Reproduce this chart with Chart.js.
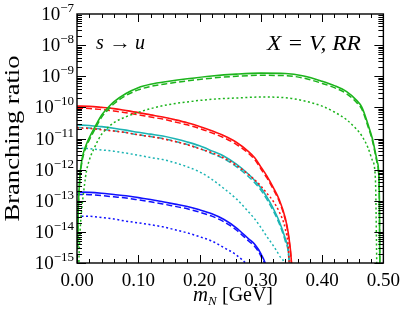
<!DOCTYPE html>
<html>
<head>
<meta charset="utf-8">
<script src="https://cdn.jsdelivr.net/npm/chart.js@4/dist/chart.umd.min.js"></script>
<style>
  html, body { margin: 0; padding: 0; background: #fff; }
</style>
</head>
<body>
<canvas id="impactChart" width="407" height="324"></canvas>
<script>
// masses (GeV) for the red / cyan / blue families
const massLow = [0, 0.02, 0.04, 0.06, 0.08, 0.1, 0.12, 0.14, 0.16, 0.18, 0.2, 0.22, 0.24, 0.26, 0.28, 0.29, 0.3, 0.31, 0.32, 0.33, 0.34, 0.345, 0.35, 0.355];
const redSolid   = [1.10e-10, 1.08e-10, 1.00e-10, 9.1e-11, 7.9e-11, 6.8e-11, 5.75e-11, 4.9e-11, 4.0e-11, 3.2e-11, 2.45e-11, 1.78e-11, 1.23e-11, 7.6e-12, 3.8e-12, 2.4e-12, 1.23e-12, 6.2e-13, 2.75e-13, 1.1e-13, 2.75e-14, 8.7e-15, 1.1e-15, 1e-17];
const redDashed  = [9.4e-11, 9.2e-11, 8.5e-11, 7.7e-11, 6.7e-11, 5.8e-11, 4.9e-11, 4.2e-11, 3.4e-11, 2.75e-11, 2.1e-11, 1.52e-11, 1.05e-11, 6.5e-12, 3.3e-12, 2.1e-12, 1.07e-12, 5.4e-13, 2.4e-13, 9.6e-14, 2.4e-14, 7.6e-15, 9.5e-16, 1e-17];
const redDotted  = [2.2e-11, 2.1e-11, 1.91e-11, 1.74e-11, 1.55e-11, 1.32e-11, 1.15e-11, 9.8e-12, 8.0e-12, 6.3e-12, 4.7e-12, 3.5e-12, 2.35e-12, 1.38e-12, 6.9e-13, 4.7e-13, 3.0e-13, 1.74e-13, 9.8e-14, 4.4e-14, 1.23e-14, 2.75e-15, 2e-17, 1e-17];
const cyanSolid  = [2.7e-11, 2.63e-11, 2.4e-11, 2.14e-11, 1.86e-11, 1.58e-11, 1.38e-11, 1.2e-11, 9.8e-12, 7.7e-12, 5.8e-12, 4.0e-12, 2.7e-12, 1.5e-12, 7.1e-13, 4.5e-13, 2.6e-13, 1.3e-13, 5.8e-14, 2.2e-14, 6.0e-15, 2.4e-15, 8.5e-17, 1e-17];
const cyanDashed = [2.25e-11, 2.18e-11, 2.0e-11, 1.78e-11, 1.55e-11, 1.31e-11, 1.15e-11, 1.0e-11, 8.1e-12, 6.4e-12, 4.8e-12, 3.3e-12, 2.25e-12, 1.25e-12, 5.9e-13, 3.8e-13, 2.2e-13, 1.1e-13, 4.9e-14, 1.85e-14, 5.0e-15, 2.0e-15, 7e-17, 1e-17];
const cyanDotted = [4.9e-12, 4.73e-12, 4.3e-12, 3.9e-12, 3.4e-12, 2.9e-12, 2.45e-12, 2.1e-12, 1.66e-12, 1.23e-12, 8.5e-13, 4.9e-13, 2.45e-13, 1.15e-13, 4.4e-14, 2.6e-14, 1.4e-14, 7.0e-15, 3.7e-15, 1.75e-15, 6.2e-16, 5e-17, 1e-17, 1e-17];
const blueSolid  = [1.9e-13, 1.86e-13, 1.74e-13, 1.58e-13, 1.44e-13, 1.26e-13, 1.1e-13, 9.3e-14, 7.8e-14, 6.5e-14, 5.1e-14, 3.8e-14, 2.5e-14, 1.35e-14, 6.0e-15, 4.0e-15, 2.0e-15, 6.0e-16, 1.9e-17, 1e-17, 1e-17, 1e-17, 1e-17, 1e-17];
const blueDashed = [1.6e-13, 1.57e-13, 1.47e-13, 1.34e-13, 1.22e-13, 1.07e-13, 9.3e-14, 7.9e-14, 6.6e-14, 5.5e-14, 4.3e-14, 3.2e-14, 2.1e-14, 1.15e-14, 5.1e-15, 3.4e-15, 1.7e-15, 5.1e-16, 1.6e-17, 1e-17, 1e-17, 1e-17, 1e-17, 1e-17];
const blueDotted = [3.2e-14, 3.17e-14, 2.9e-14, 2.6e-14, 2.2e-14, 1.95e-14, 1.7e-14, 1.45e-14, 1.17e-14, 9.3e-15, 7.0e-15, 5.1e-15, 3.1e-15, 1.8e-15, 7.2e-16, 2.6e-16, 1e-17, 1e-17, 1e-17, 1e-17, 1e-17, 1e-17, 1e-17, 1e-17];

// masses (GeV) for the green family
const massGreen = [0.001, 0.002, 0.003, 0.005, 0.0075, 0.01, 0.015, 0.02, 0.03, 0.04, 0.05, 0.06, 0.08, 0.1, 0.12, 0.15, 0.18, 0.22, 0.26, 0.3, 0.34, 0.37, 0.4, 0.42, 0.44, 0.455, 0.465, 0.475, 0.482, 0.487, 0.49, 0.492, 0.4935, 0.4945, 0.496];
const greenSolid  = [3.2e-15, 5e-14, 1.6e-13, 7.1e-13, 1.78e-12, 3.2e-12, 6.3e-12, 1.05e-11, 2.5e-11, 5.6e-11, 9.5e-11, 1.5e-10, 2.8e-10, 4.3e-10, 5.5e-10, 6.9e-10, 8.3e-10, 1.02e-9, 1.17e-9, 1.26e-9, 1.23e-9, 1.02e-9, 6.9e-10, 5.0e-10, 3.2e-10, 1.78e-10, 1.0e-10, 2.8e-11, 1.0e-11, 3.5e-12, 1.78e-12, 1.0e-12, 1.0e-13, 1e-16, 1e-17];
const greenDashed = [2.7e-15, 4.2e-14, 1.36e-13, 6.0e-13, 1.5e-12, 2.7e-12, 5.4e-12, 8.9e-12, 2.1e-11, 4.8e-11, 8.1e-11, 1.28e-10, 2.4e-10, 3.65e-10, 4.7e-10, 5.9e-10, 7.1e-10, 8.7e-10, 1.0e-9, 1.07e-9, 1.05e-9, 8.7e-10, 5.9e-10, 4.3e-10, 2.75e-10, 1.52e-10, 8.6e-11, 2.4e-11, 8.6e-12, 3.0e-12, 1.52e-12, 8.6e-13, 8.6e-14, 1e-16, 1e-17];
const greenDotted = [1e-17, 1e-16, 1e-15, 1e-14, 5e-14, 1.4e-13, 8e-13, 2.0e-12, 5.9e-12, 1.35e-11, 2.2e-11, 3.2e-11, 5.0e-11, 6.9e-11, 9.1e-11, 1.23e-10, 1.5e-10, 1.82e-10, 2.0e-10, 2.15e-10, 2.05e-10, 1.62e-10, 1.1e-10, 7.1e-11, 4.0e-11, 2.1e-11, 1.2e-11, 5.0e-12, 2.0e-12, 5e-13, 1e-16, 1e-17, 1e-17, 1e-17, 1e-17];

const xTicks = [0, 0.1, 0.2, 0.3, 0.4, 0.5];
const yExponents = [-7, -8, -9, -10, -11, -12, -13, -14, -15];

const FONT = "'Liberation Serif', 'DejaVu Serif', serif";
const GREEN = '#1cb41c', RED = '#ff1010', CYAN = '#1cb4b4', BLUE = '#1010ff';

function series(ms, vs, color, style) {
  return {
    data: ms.map((m, i) => ({ x: m, y: vs[i] })),
    borderColor: color,
    borderWidth: style === 'solid' ? 1.6 : 1.5,
    borderDash: style === 'dashed' ? [6, 3] : style === 'dotted' ? [2, 2.5] : [],
    pointRadius: 0,
    fill: false,
    cubicInterpolationMode: 'monotone'
  };
}

// draw text stretched to a given width (the original uses a wider TeX font)
function fitText(ctx, txt, x, y, width) {
  const w = ctx.measureText(txt).width;
  ctx.save();
  ctx.translate(x, y);
  ctx.scale(width / w, 1);
  ctx.fillText(txt, 0, 0);
  ctx.restore();
}

const frame = {
  id: 'frame',
  afterDraw(chart) {
    const ctx = chart.ctx;
    const a = chart.chartArea;
    const xs = chart.scales.x, ys = chart.scales.y;
    ctx.save();
    ctx.strokeStyle = '#000';
    ctx.lineWidth = 1;
    // x ticks, top and bottom
    for (let k = 0; k <= 25; k++) {
      const px = Math.round(xs.getPixelForValue(k * 0.02)) + 0.5;
      const len = k % 5 === 0 ? 8 : 4;
      ctx.beginPath();
      ctx.moveTo(px, a.bottom); ctx.lineTo(px, a.bottom - len);
      ctx.moveTo(px, a.top); ctx.lineTo(px, a.top + len);
      ctx.stroke();
    }
    // y ticks, left and right
    for (let e = -15; e < -7; e++) {
      for (let d = 1; d <= 9; d++) {
        const py = Math.round(ys.getPixelForValue(d * Math.pow(10, e))) + 0.5;
        const len = d === 1 ? 9 : 5;
        ctx.beginPath();
        ctx.moveTo(a.left, py); ctx.lineTo(a.left + len, py);
        ctx.moveTo(a.right, py); ctx.lineTo(a.right - len, py);
        ctx.stroke();
      }
    }
    ctx.lineWidth = 1.4;
    ctx.strokeRect(a.left, a.top, a.right - a.left, a.bottom - a.top);

    // y tick labels 10^n
    ctx.fillStyle = '#000';
    ctx.textBaseline = 'alphabetic';
    yExponents.forEach(e => {
      const py = ys.getPixelForValue(Math.pow(10, e));
      ctx.font = '13px ' + FONT;
      ctx.textAlign = 'right';
      const sup = '\u2212' + Math.abs(e);
      ctx.fillText(sup, a.left - 3, py - 2);
      const w = ctx.measureText(sup).width;
      ctx.font = '19px ' + FONT;
      ctx.fillText('10', a.left - 3 - w, py + 6);
    });

    // annotations
    ctx.textAlign = 'left';
    ctx.font = 'italic 20px ' + FONT;
    ctx.fillText('s', 96, 49);
    ctx.font = '19px ' + FONT;
    fitText(ctx, '\u2192', 109, 49, 22);
    ctx.font = 'italic 20px ' + FONT;
    ctx.fillText('u', 135, 49);

    ctx.font = 'italic 20px ' + FONT;
    fitText(ctx, 'X = V, RR', 267, 50, 94);

    // x axis title
    ctx.font = 'italic 20px ' + FONT;
    fitText(ctx, 'm', 193, 301, 15);
    ctx.font = 'italic 13px ' + FONT;
    ctx.fillText('N', 208, 305);
    ctx.font = '20px ' + FONT;
    fitText(ctx, '[GeV]', 222, 301, 51);

    // y axis title
    ctx.translate(19, (a.top + a.bottom) / 2);
    ctx.rotate(-Math.PI / 2);
    ctx.font = '22px ' + FONT;
    fitText(ctx, 'Branching ratio', -83, 0, 166);
    ctx.restore();
  }
};

new Chart(document.getElementById('impactChart').getContext('2d'), {
  type: 'line',
  data: {
    datasets: [
      series(massGreen, greenSolid, GREEN, 'solid'),
      series(massGreen, greenDashed, GREEN, 'dashed'),
      series(massGreen, greenDotted, GREEN, 'dotted'),
      series(massLow, redSolid, RED, 'solid'),
      series(massLow, redDashed, RED, 'dashed'),
      series(massLow, redDotted, RED, 'dotted'),
      series(massLow, cyanSolid, CYAN, 'solid'),
      series(massLow, cyanDashed, CYAN, 'dashed'),
      series(massLow, cyanDotted, CYAN, 'dotted'),
      series(massLow, blueSolid, BLUE, 'solid'),
      series(massLow, blueDashed, BLUE, 'dashed'),
      series(massLow, blueDotted, BLUE, 'dotted')
    ]
  },
  options: {
    responsive: false,
    animation: false,
    layout: { padding: { left: 0, top: 14, right: 19, bottom: 0 } },
    plugins: { legend: { display: false }, tooltip: { enabled: false } },
    scales: {
      x: {
        type: 'linear',
        min: 0,
        max: 0.5,
        afterBuildTicks: s => { s.ticks = xTicks.map(v => ({ value: v })); },
        ticks: {
          callback: v => v.toFixed(2),
          font: { family: FONT, size: 19 },
          color: '#000',
          padding: 7,
          maxRotation: 0
        },
        grid: { display: false, drawTicks: false },
        border: { display: false },
        afterFit: s => { s.height = 61; }
      },
      y: {
        type: 'logarithmic',
        min: 1e-15,
        max: 1e-7,
        ticks: { display: false },
        grid: { display: false, drawTicks: false },
        border: { display: false },
        afterFit: s => { s.width = 77; }
      }
    }
  },
  plugins: [frame]
});
</script>
</body>
</html>
